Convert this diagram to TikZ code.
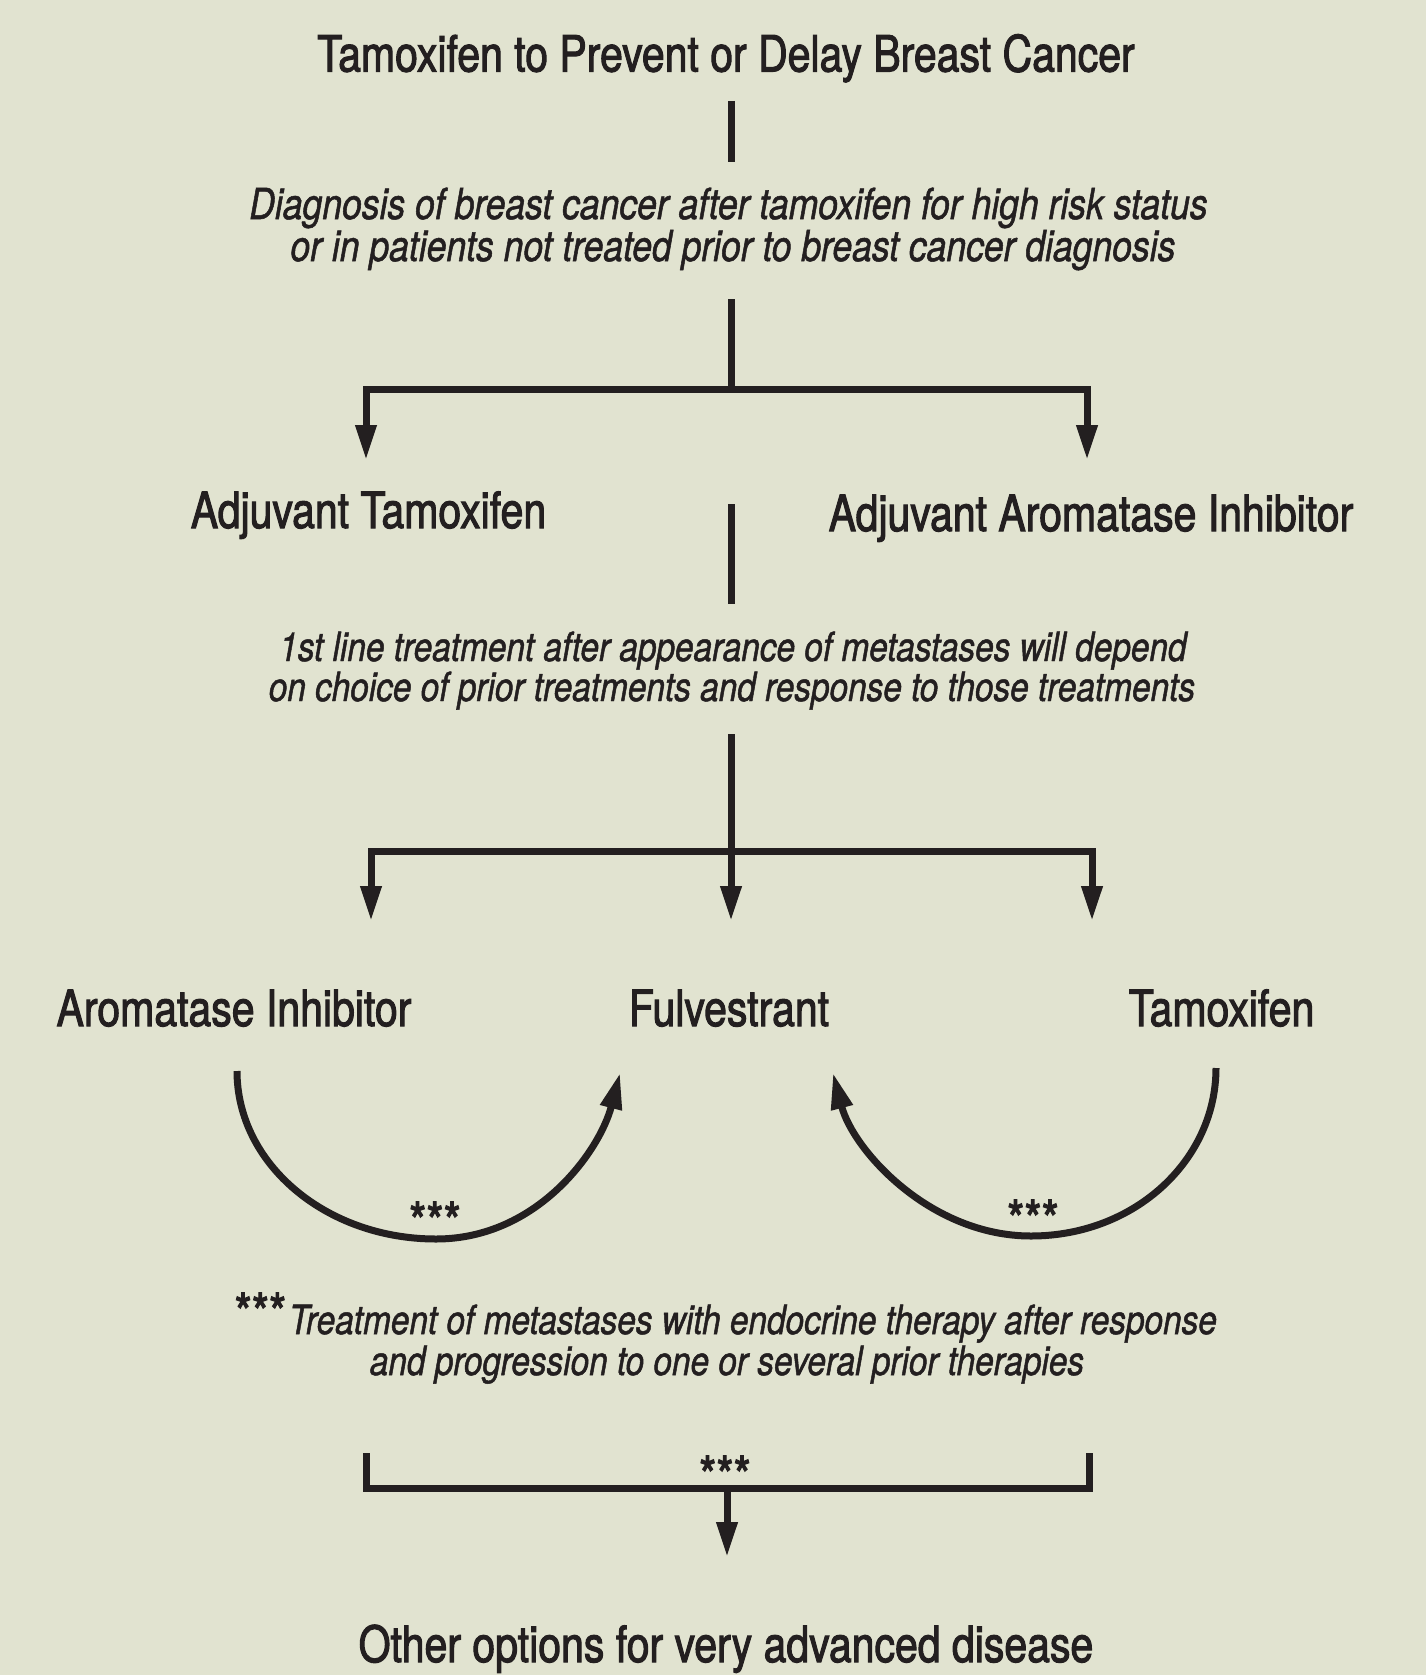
\documentclass[tikz,border=0pt]{standalone}
\usepackage{fontspec}
\setmainfont{TeX Gyre Heros}[FakeStretch=0.83]
\newfontfamily\lblfont{TeX Gyre Heros}[FakeStretch=0.82, FakeBold=2.0]
\newfontfamily\notefont{TeX Gyre Heros}[FakeStretch=0.83, FakeBold=1.2]
\usetikzlibrary{arrows.meta}
\definecolor{bg}{HTML}{E1E3D0}
\definecolor{ink}{HTML}{231F20}
\begin{document}
\begin{tikzpicture}[x=0.5pt,y=-0.5pt,
  lbl/.style={font=\lblfont\fontsize{25}{29}\selectfont, text=ink, inner sep=0pt, anchor=base},
  note/.style={font=\notefont\fontsize{20.1}{25}\selectfont\itshape, text=ink, inner sep=0pt, anchor=base},
  stars/.style={font=\lblfont\fontsize{27}{30}\selectfont, text=ink, inner sep=0pt, anchor=base},
  wire/.style={draw=ink, line width=3.5pt, line join=miter},
  arr/.style={wire, -{Triangle[length=17.5pt,width=10pt]}},
  ]
\fill[bg] (0,0) rectangle (1426,1675);
\useasboundingbox (0,0) rectangle (1426,1675);

% texts
\node[lbl] (title) at (726,71.5) {Tamoxifen to Prevent or Delay Breast Cancer};
\node[note, font=\notefont\fontsize{21.4}{25}\selectfont\itshape] (d1) at (728.5,219) {Diagnosis of breast cancer after tamoxifen for high risk status};
\node[note, font=\notefont\fontsize{21.4}{25}\selectfont\itshape] (d2) at (733,261) {or in patients not treated prior to breast cancer diagnosis};
\node[lbl] (adjtam) at (368.5,528) {Adjuvant Tamoxifen};
\node[lbl] (adjai) at (1091,531) {Adjuvant Aromatase Inhibitor};
\node[note] (f1) at (733,661) {1st line treatment after appearance of metastases will depend};
\node[note] (f2) at (732,701) {on choice of prior treatments and response to those treatments};
\node[lbl] (ai) at (234,1026) {Aromatase Inhibitor};
\node[lbl] (fulv) at (729,1026) {Fulvestrant};
\node[lbl] (tam) at (1221.5,1026) {Tamoxifen};
\node[stars] (s1) at (435,1241) {***};
\node[stars] (s2) at (1033,1239) {***};
\node[note] (n1) at (753,1334) {Treatment of metastases with endocrine therapy after response};
\node[stars, anchor=base east] (ns) at ([xshift=-1pt,yshift=1pt]n1.base west) {***};
\node[note] (n2) at (727,1375) {and progression to one or several prior therapies};
\node[stars] (s3) at (725,1495) {***};
\node[lbl] (other) at (726,1662) {Other options for very advanced disease};

% connector coordinates
\coordinate (l1a) at (731,101);
\coordinate (l1b) at (731,162);
\coordinate (l2a) at (731,299);
\coordinate (b1) at (731,389);
\coordinate (t1l) at (366,460);
\coordinate (t1r) at (1087,460);
\coordinate (l3a) at (731,504);
\coordinate (l3b) at (731,604);
\coordinate (l4a) at (731,734);
\coordinate (b2) at (731,851);
\coordinate (t2l) at (371,921);
\coordinate (t2m) at (731,921);
\coordinate (t2r) at (1092,921);
\coordinate (aLs) at (237,1071);
\coordinate (aLb) at (436,1239);
\coordinate (aLe) at (620,1073);
\coordinate (aRs) at (1216,1068);
\coordinate (aRb) at (1031,1236);
\coordinate (aRe) at (833,1073);
\coordinate (brL) at (366,1453);
\coordinate (brR) at (1089,1453);
\coordinate (brM) at (727,1488);
\coordinate (tO) at (727,1557);

% connectors
\draw[wire] (l1a) -- (l1b);
\draw[wire] (l2a) -- (b1);
\draw[arr] (b1) -| (t1l);
\draw[arr] (b1) -| (t1r);
\draw[wire] (l3a) -- (l3b);
\draw[arr] (l4a) -- (t2m);
\draw[arr] (b2) -| (t2l);
\draw[arr] (b2) -| (t2r);
\draw[wire, -{Triangle[length=18pt,width=10.5pt]}] (aLs) .. controls (237,1164) and (326,1239) .. (aLb) .. controls (538,1239) and (600,1150) .. (aLe);
\draw[wire, -{Triangle[length=18pt,width=10.5pt]}] (aRs) .. controls (1216,1160) and (1135,1236) .. (aRb) .. controls (930,1236) and (853,1150) .. (aRe);
\draw[wire] (brL) |- (brM) -| (brR);
\draw[arr] (brM) -- (tO);
\end{tikzpicture}
\end{document}
